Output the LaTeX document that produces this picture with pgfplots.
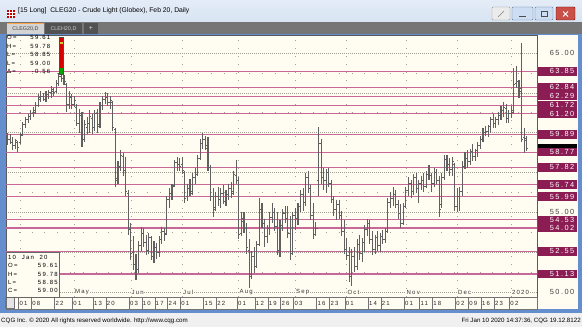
\documentclass[border=0pt]{standalone}
\usepackage{pgfplots}
\pgfplotsset{compat=1.18}
\usepackage{pgfplotstable}
\usepackage{fontspec}
\setmainfont{Liberation Sans}
\newfontfamily\cqg[LetterSpace=20]{Liberation Sans}
\newcommand{\plab}{\cqg\fontsize{7.4}{8}\selectfont}
\newcommand{\ilab}{\cqg\fontsize{6}{7}\selectfont}
\definecolor{winblue}{RGB}{100,142,205}
\definecolor{titlebar}{RGB}{216,228,243}
\definecolor{tabgray}{RGB}{118,118,118}
\definecolor{tabdark}{RGB}{82,82,82}
\definecolor{cream}{RGB}{255,253,242}
\definecolor{magline}{RGB}{200,104,152}
\definecolor{magbox}{RGB}{140,28,84}
\definecolor{barcol}{RGB}{96,96,96}
\definecolor{gridc}{RGB}{160,160,148}
\definecolor{statusbg}{RGB}{240,240,240}
\definecolor{btnblue}{RGB}{205,222,242}
\definecolor{btnedge}{RGB}{96,120,160}
\definecolor{btnred}{RGB}{200,80,72}

\pgfdeclareplotmark{openleft}{\pgfpathmoveto{\pgfqpoint{-\pgfplotmarksize}{0pt}}\pgfpathlineto{\pgfqpoint{0pt}{0pt}}\pgfusepathqstroke}
\pgfdeclareplotmark{closeright}{\pgfpathmoveto{\pgfqpoint{0pt}{0pt}}\pgfpathlineto{\pgfqpoint{\pgfplotmarksize}{0pt}}\pgfusepathqstroke}

\pgfplotstableread{
i o h l c
0 59.5 60.0 59.2 59.6
1 59.6 59.9 59.3 59.4
2 59.4 59.7 58.9 59.2
3 59.2 59.6 59.0 59.5
4 59.4 59.5 58.8 59.1
5 59.4 60.0 59.3 59.8
6 59.9 60.7 59.8 60.5
7 60.5 61.0 60.3 60.8
8 60.8 61.2 60.6 61.0
9 61.0 61.4 60.8 61.2
10 61.2 61.6 61.0 61.4
11 61.3 61.9 61.2 61.7
12 61.7 62.4 61.6 62.2
13 62.1 62.6 61.9 62.3
14 62.3 62.5 62.0 62.1
15 62.1 62.6 61.9 62.4
16 62.4 62.7 62.1 62.5
17 62.5 62.9 62.2 62.7
18 62.6 62.8 62.3 62.5
19 62.6 63.3 62.5 63.1
20 63.1 63.75 62.9 63.5
21 63.5 63.7 63.2 63.4
22 63.4 63.6 63.0 63.2
23 63.0 63.1 61.3 61.8
24 61.8 62.6 61.5 62.3
25 62.2 62.4 61.5 61.8
26 61.8 62.3 61.6 62.0
27 61.6 61.8 60.4 60.6
28 60.6 61.5 60.0 61.2
29 61.1 61.3 59.1 59.6
30 59.6 60.8 59.4 60.5
31 60.3 61.0 59.9 60.6
32 60.6 61.4 60.0 61.0
33 60.9 61.2 59.9 60.3
34 60.3 61.4 60.1 61.2
35 61.2 61.5 60.0 60.4
36 60.5 61.9 60.3 61.7
37 61.7 62.3 61.4 62.1
38 62.1 62.55 61.8 62.2
39 62.2 62.5 61.7 61.9
40 61.9 62.3 61.5 62.0
41 61.9 62.0 60.1 60.3
42 60.2 60.3 56.6 57.0
43 57.1 58.2 56.8 57.9
44 57.8 58.9 57.6 58.6
45 58.5 58.7 57.3 57.6
46 57.6 58.5 56.0 56.3
47 56.2 56.4 53.6 53.9
48 53.9 54.3 52.0 52.4
49 52.5 53.5 51.4 51.7
50 51.7 52.4 50.75 51.4
51 51.4 53.2 51.2 52.9
52 52.9 54.1 52.6 53.7
53 53.7 54.0 52.8 53.1
54 53.1 53.6 52.3 52.6
55 52.6 53.7 52.4 53.4
56 53.4 53.5 52.0 52.2
57 52.2 53.2 51.8 52.8
58 52.8 53.1 52.1 52.5
59 52.5 53.5 52.2 53.3
60 53.3 54.1 53.0 53.8
61 53.8 54.0 53.2 53.6
62 53.7 56.0 53.6 55.8
63 55.8 56.5 55.3 56.2
64 56.2 56.8 55.8 56.6
65 56.7 58.3 56.6 58.1
66 58.1 58.5 57.6 58.0
67 58.0 58.4 57.6 57.9
68 58.0 58.5 57.4 57.6
69 57.5 57.6 55.6 55.9
70 56.0 56.8 55.7 56.5
71 56.5 57.1 56.0 56.2
72 56.3 57.5 56.1 57.2
73 57.2 57.8 56.8 57.4
74 57.4 58.6 57.3 58.4
75 58.4 59.6 58.3 59.3
76 59.3 60.0 59.0 59.6
77 59.6 59.8 58.9 59.2
78 59.0 59.7 57.6 57.8
79 57.8 58.0 55.7 56.0
80 56.0 56.5 54.7 55.2
81 55.3 56.3 55.1 56.0
82 56.0 56.6 55.4 55.8
83 55.8 56.5 55.3 56.2
84 56.2 56.7 55.5 55.7
85 55.7 56.4 55.4 56.1
86 56.1 56.8 55.8 56.5
87 56.5 56.9 55.9 56.2
88 56.3 57.6 56.1 57.4
89 57.3 58.3 56.8 57.0
90 57.0 57.2 53.3 53.6
91 53.7 55.0 53.5 54.6
92 54.4 55.0 53.7 54.0
93 54.0 54.3 52.4 52.8
94 52.6 53.3 50.25 51.0
95 51.1 52.6 50.8 52.2
96 52.2 52.8 51.2 51.6
97 51.6 53.2 51.5 53.0
98 53.0 55.9 52.9 55.2
99 55.2 55.6 54.0 54.3
100 54.3 54.6 52.8 53.5
101 53.5 54.2 53.1 54.0
102 54.0 55.0 53.6 54.7
103 54.7 55.6 54.3 55.0
104 55.0 55.3 53.8 54.1
105 54.1 55.0 52.3 52.6
106 52.6 54.5 52.2 54.2
107 54.2 55.2 53.8 55.0
108 54.9 55.4 54.3 54.6
109 54.6 55.4 53.4 53.7
110 53.7 54.8 52.0 52.4
111 52.4 55.0 52.3 54.8
112 54.8 55.3 53.9 54.6
113 54.6 55.6 54.2 55.4
114 55.4 56.4 55.0 56.1
115 56.1 56.5 55.1 55.6
116 55.6 57.5 55.4 57.2
117 57.2 57.6 56.2 56.5
118 56.5 56.7 54.5 54.8
119 54.8 55.6 53.3 53.6
120 53.6 54.4 53.5 54.0
121 57.0 60.35 56.0 59.3
122 59.3 59.6 56.8 57.2
123 57.2 57.8 56.4 57.0
124 57.0 57.7 56.2 57.5
125 57.5 57.8 56.6 56.8
126 56.8 57.0 55.6 55.8
127 55.8 56.0 54.8 55.2
128 55.2 55.8 54.5 55.5
129 55.5 55.8 54.6 54.8
130 54.8 55.1 53.5 53.8
131 53.8 54.5 52.4 52.7
132 52.7 53.4 52.0 52.3
133 52.3 52.8 50.6 51.0
134 51.0 52.7 50.4 52.2
135 52.2 52.8 51.25 51.6
136 51.6 53.3 51.4 53.0
137 53.0 53.6 52.0 52.4
138 52.4 53.4 51.9 53.1
139 53.1 54.2 52.5 53.9
140 53.9 54.6 53.5 54.3
141 54.3 54.5 53.0 53.3
142 53.3 53.8 52.3 52.7
143 52.7 53.6 52.4 53.4
144 53.4 53.8 52.6 52.9
145 52.9 53.7 52.5 53.5
146 53.5 53.9 53.0 53.3
147 53.3 54.0 53.1 53.8
148 53.8 55.9 53.7 55.6
149 55.6 56.3 55.3 55.9
150 55.9 56.6 55.4 56.1
151 56.1 56.4 55.3 55.5
152 55.5 55.8 54.6 54.9
153 54.9 55.5 54.0 54.3
154 54.3 55.6 54.2 55.4
155 55.4 56.6 55.3 56.4
156 56.4 57.2 56.0 56.8
157 56.8 57.0 55.9 56.3
158 56.3 57.4 56.1 57.2
159 57.2 57.5 56.2 56.5
160 56.5 57.0 55.6 56.8
161 56.8 57.3 56.4 57.0
162 57.0 57.5 56.3 56.6
163 56.6 57.6 56.5 57.4
164 57.4 58.0 57.0 57.3
165 57.3 57.5 56.3 56.8
166 56.8 57.8 56.6 57.5
167 57.5 57.7 56.8 57.0
168 57.0 57.3 54.7 55.2
169 55.5 57.5 55.3 57.2
170 57.2 58.6 57.0 58.3
171 58.3 58.6 57.6 58.0
172 58.0 58.4 57.3 57.7
173 57.7 58.5 57.3 58.2
174 58.0 58.1 55.1 55.4
175 55.4 56.5 55.0 56.0
176 56.0 56.6 55.1 56.3
177 56.3 58.2 56.0 57.9
178 57.9 58.8 57.7 58.4
179 58.4 58.9 57.8 58.2
180 58.2 59.0 58.0 58.8
181 58.8 59.3 58.2 58.5
182 58.5 59.0 58.2 58.9
183 58.9 59.4 58.5 59.2
184 59.2 59.8 59.0 59.6
185 59.6 60.3 59.4 60.0
186 60.0 60.4 59.8 60.1
187 60.1 60.5 59.7 60.4
188 60.4 61.0 60.0 60.8
189 60.8 61.2 60.3 60.6
190 60.6 61.0 60.3 60.8
191 60.8 61.3 60.5 61.1
192 61.1 61.7 60.8 61.4
193 61.4 61.9 61.0 61.6
194 61.5 61.8 60.6 60.9
195 60.9 61.4 60.6 61.2
196 61.2 61.7 60.9 61.3
197 61.4 64.05 61.2 63.0
198 63.1 64.2 62.8 63.2
199 63.2 63.3 62.2 62.6
200 62.8 65.6 59.4 59.6
201 59.7 60.3 58.7 59.5
202 59.61 59.78 58.85 59.00
}\ohlc

% horizontal level line (drawn through the axis)
\newcommand{\level}[1]{\addplot[magline, line width=1.2pt, forget plot] coordinates {(-0.58,#1) (206,#1)};}
% price label (plain)
\newcommand{\glab}[1]{\node[anchor=east, inner sep=0pt, font=\plab, text=black!75] at ([xshift=37.5pt]axis cs:206,#1) {#1};}
% boxed label
\newcommand{\bbox}[2]{\fill[#2] ([xshift=1pt,yshift=-4.2pt]axis cs:206,#1) rectangle ([xshift=39.5pt,yshift=4.2pt]axis cs:206,#1);}
\newcommand{\blab}[1]{\bbox{#1}{magbox}%
  \node[anchor=east, inner sep=0pt, font=\plab, text=white] at ([xshift=37.5pt]axis cs:206,#1) {#1};}
% date strip label
\newcommand{\dlab}[2]{\draw[black!55, line width=0.5pt] (axis cs:#1-0.7,48.933) -- (axis cs:#1-0.7,49.686);
  \node[anchor=west, inner sep=0pt, font=\ilab, text=black!85] at (axis cs:#1-0.4,49.31) {#2};}
% month label
\newcommand{\mlab}[2]{\node[anchor=west, inner sep=0.6pt, fill=cream, font=\ilab, text=black!80] at (axis cs:#1,50) {#2};}

\begin{document}
\begin{tikzpicture}[x=1pt,y=1pt]
\useasboundingbox (0,0) rectangle (582,327);
% window
\fill[winblue] (0,0) rectangle (582,327);
\shade[top color=titlebar!70!white, bottom color=titlebar] (0,305) rectangle (582,327);
\fill[tabgray] (0,293) rectangle (582,305);
\fill[cream] (6,18) rectangle (578,292);
\fill[statusbg] (0,0) rectangle (582,13.5);
% title bar
\fill[red!75!black] (7,309) rectangle (15,317);
\draw[white, line width=0.5pt] (9.7,309) -- (9.7,317) (12.3,309) -- (12.3,317) (7,311.7) -- (15,311.7) (7,314.3) -- (15,314.3);
\node[anchor=west, inner sep=0pt, font=\fontsize{6.8}{8}\selectfont] at (18,316) {[15 Long]\ \ CLEG20 - Crude Light (Globex), Feb 20, Daily};
\draw[black!40, fill=black!8, rounded corners=1pt] (492,307) rectangle (510,320);
\draw[black!50, line width=0.5pt] (498,310) -- (504,316);
\draw[btnedge, fill=btnblue, rounded corners=1pt] (512,307) rectangle (533,320);
\draw[black!70, line width=0.9pt] (519,311) -- (526,311);
\draw[btnedge, fill=btnblue, rounded corners=1pt] (535,307) rectangle (553,320);
\draw[black!70, line width=0.6pt] (541,310.5) rectangle (547,316);
\draw[red!50!black, fill=btnred, rounded corners=1pt] (556,307) rectangle (575,320);
\draw[white, line width=1pt] (563,310.5) -- (568,315.5) (563,315.5) -- (568,310.5);
% tabs
\fill[black!17] (7,293) rectangle (44,304);
\draw[orange!70, line width=0.6pt] (7,304) -- (44,304);
\node[font=\fontsize{5.4}{6}\selectfont, text=black!75, inner sep=0pt] at (25.5,298.5) {CLEG20,D};
\fill[tabdark] (45,293) rectangle (82,304);
\node[font=\fontsize{5.4}{6}\selectfont, text=black!20, inner sep=0pt] at (63.5,298.5) {CLEH20,D};
\fill[tabdark] (84,293) rectangle (98,304);
\node[font=\fontsize{7}{8}\selectfont, text=black!15, inner sep=0pt] at (91,298.5) {+};
% status bar
\node[anchor=west, inner sep=0pt, font=\fontsize{6.2}{7}\selectfont] at (1,6.5) {CQG Inc. \textcopyright\ 2020 All rights reserved worldwide. http://www.cqg.com};
\node[anchor=east, inner sep=0pt, font=\fontsize{6.2}{7}\selectfont] at (581,6.5) {Fri Jan 10 2020 14:37:36, CQG 19.12.8122};

\begin{axis}[
  at={(6pt,30pt)}, anchor=south west,
  scale only axis, width=531pt, height=262pt,
  xmin=-0.58, xmax=206, ymin=49.686, ymax=66.13,
  clip mode=individual,
  axis background/.style={fill=cream},
  axis line style={draw=black!65, line width=0.6pt},
  major tick length=0pt, minor tick length=0pt,
  xtick={5,26,48,68,90,112,132,155,175,196}, xticklabels={},
  ytick={50,52.5,55,57.5,60,62.5,65}, yticklabels={},
  minor ytick={51.25,53.75,56.25,58.75,61.25,63.75},
  xmajorgrids, ymajorgrids, yminorgrids,
  major x grid style={gridc, line width=0.7pt, dash pattern=on 0.8pt off 7.2pt},
  major y grid style={gridc, line width=0.6pt, dash pattern=on 0.9pt off 1.1pt},
  minor y grid style={gridc, line width=0.7pt, dash pattern=on 0.8pt off 12pt},
]
% support / resistance levels
\level{63.85}\level{62.84}\level{62.29}\level{61.72}\level{61.20}\level{59.89}\level{58.77}
\level{57.82}\level{56.74}\level{55.99}\level{54.53}\level{54.02}\level{52.55}\level{51.13}
% OHLC bars: high-low range
\addplot[draw=none, mark=none, forget plot,
  error bars/.cd, y dir=minus, y explicit, error mark=none,
  error bar style={draw=barcol, line width=1.1pt}]
  table[x=i, y=h, y error expr=\thisrow{h}-\thisrow{l}] {\ohlc};
% open (left tick) and close (right tick)
\addplot[only marks, mark=openleft, mark size=1.6pt, mark options={draw=barcol, line width=0.9pt}, forget plot]
  table[x=i, y=o] {\ohlc};
\addplot[only marks, mark=closeright, mark size=1.6pt, mark options={draw=barcol, line width=0.9pt}, forget plot]
  table[x=i, y=c] {\ohlc};
% month labels
\mlab{26}{May}\mlab{48}{Jun}\mlab{68}{Jul}\mlab{90}{Aug}\mlab{112}{Sep}\mlab{132}{Oct}\mlab{155}{Nov}\mlab{175}{Dec}\mlab{196}{2020}
% date strip
\draw[black!55, line width=0.5pt] (axis cs:-0.58,48.933) rectangle (axis cs:206,49.686);
\dlab{0}{25}\dlab{5}{01}\dlab{10}{08}\dlab{19}{22}\dlab{26}{01}\dlab{34}{13}\dlab{39}{20}
\dlab{48}{03}\dlab{53}{10}\dlab{58}{17}\dlab{63}{24}\dlab{68}{01}\dlab{77}{15}\dlab{82}{22}
\dlab{90}{01}\dlab{97}{12}\dlab{102}{19}\dlab{107}{26}\dlab{112}{03}\dlab{121}{16}\dlab{126}{23}
\dlab{132}{01}\dlab{141}{14}\dlab{146}{21}\dlab{155}{01}\dlab{161}{11}\dlab{166}{18}
\dlab{175}{02}\dlab{180}{09}\dlab{185}{16}\dlab{190}{23}\dlab{196}{02}
% price scale
\glab{65.00}\glab{55.00}\glab{50.00}
\blab{63.85}\blab{62.84}\blab{62.29}\blab{61.72}\blab{61.20}
\blab{59.89}\bbox{59.00}{black}\blab{58.77}\blab{57.82}\blab{56.74}
\blab{55.99}\blab{54.53}\blab{54.02}\blab{52.55}\blab{51.13}
\end{axis}
% left date-strip button
\fill[black!10] (6.3,18.3) rectangle (14.5,29.7);
\draw[black!55, line width=0.5pt] (6.3,18.3) rectangle (14.5,29.7);
% top-left info
\begin{scope}[every node/.style={inner sep=0pt, font=\ilab}]
\node[anchor=west] at (7,289.8) {O=};  \node[anchor=east] at (50.5,289.8) {59.61};
\node[anchor=west] at (7,281.0) {H=};  \node[anchor=east] at (50.5,281.0) {59.78};
\node[anchor=west] at (7,272.4) {L=};  \node[anchor=east] at (50.5,272.4) {58.85};
\node[anchor=west] at (7,263.8) {L=};  \node[anchor=east] at (50.5,263.8) {59.00};
\node[anchor=west] at (7,255.2) {Δ=}; \node[anchor=east] at (50.5,255.2) {-0.56};
\end{scope}
\fill[red!85!black] (59,259) rectangle (63,290);
\fill[green!65!black] (59,253) rectangle (63,259);
\draw[black!70, line width=0.4pt] (59,253) rectangle (63,290);
\fill[yellow!80!black] (59.5,283) rectangle (62.5,285);
% bottom-left info box
\draw[black!60, fill=cream, line width=0.5pt] (6.7,30) rectangle (59.3,74.3);
\begin{scope}[every node/.style={inner sep=0pt, font=\ilab}]
\node[anchor=west] at (8,69.5) {10\ \ Jan\ \ 20};
\node[anchor=west] at (8,61.3) {O=}; \node[anchor=east] at (58,61.3) {59.61};
\node[anchor=west] at (8,53.0) {H=}; \node[anchor=east] at (58,53.0) {59.78};
\node[anchor=west] at (8,45.0) {L=}; \node[anchor=east] at (58,45.0) {58.85};
\node[anchor=west] at (8,37.0) {C=}; \node[anchor=east] at (58,37.0) {59.00};
\end{scope}
\end{tikzpicture}
\end{document}
